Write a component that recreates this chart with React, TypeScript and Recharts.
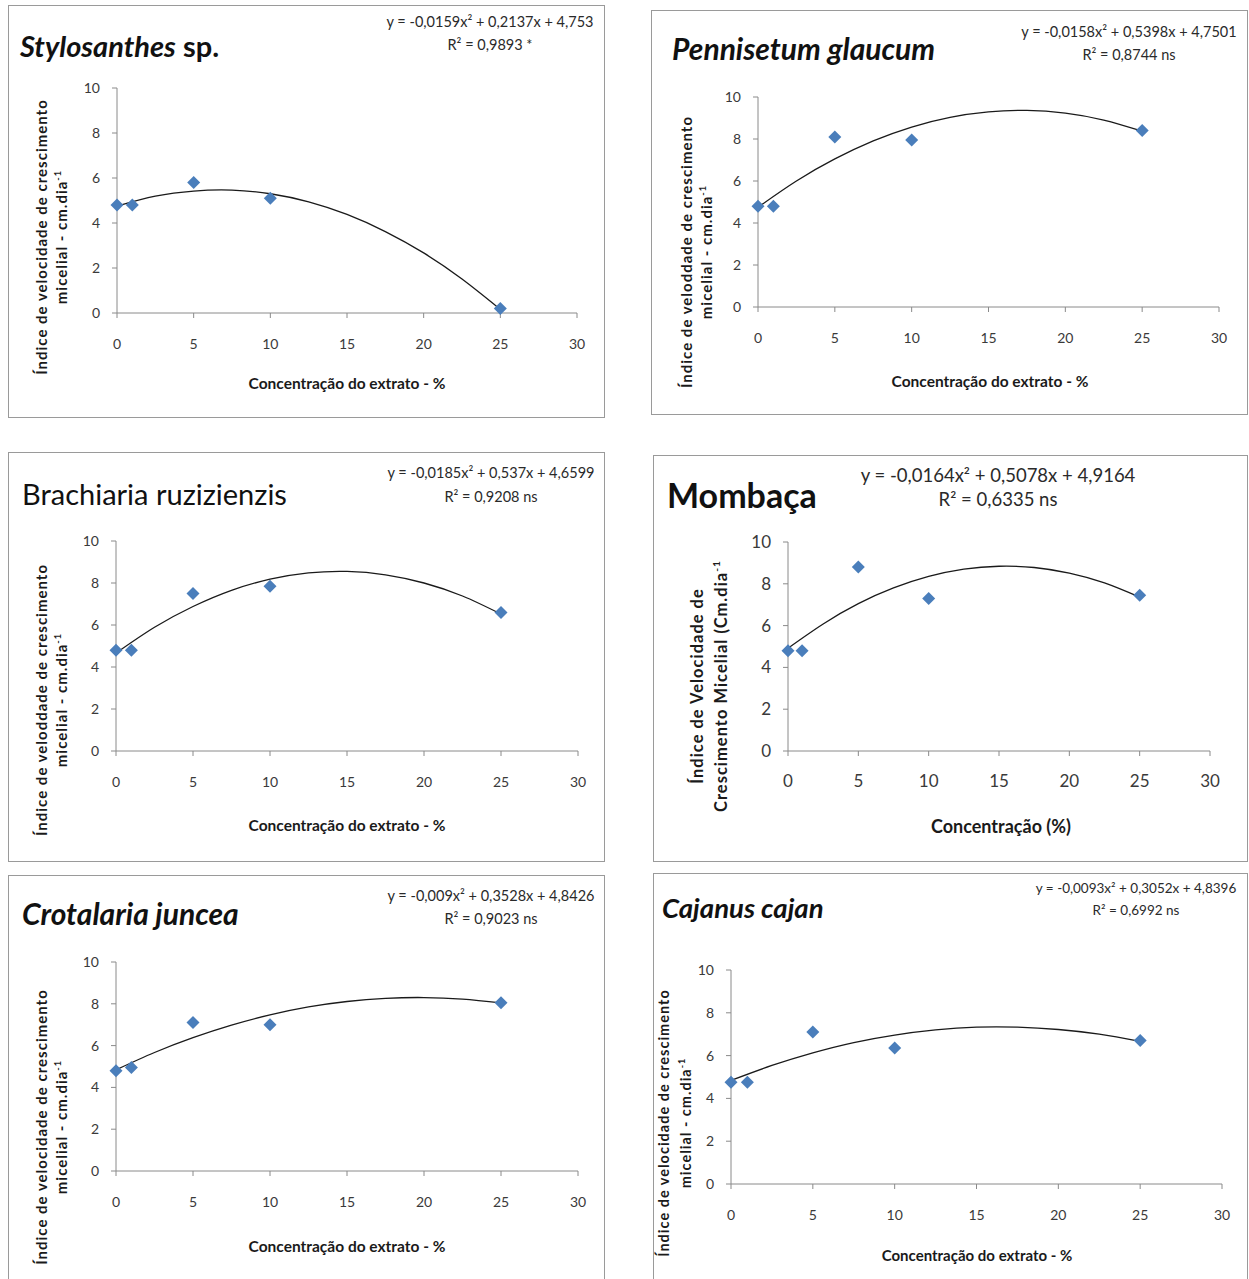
import React from 'react';
import { ComposedChart, Scatter, Line, XAxis, YAxis } from 'recharts';

// measured concentrations (% extract) and growth index per species
const concentrations = [0, 1, 5, 10, 25];
const stylosanthesValues = [4.8, 4.8, 5.8, 5.1, 0.2];
const pennisetumValues = [4.8, 4.8, 8.1, 7.95, 8.4];
const brachiariaValues = [4.8, 4.8, 7.5, 7.85, 6.6];
const mombacaValues = [4.8, 4.8, 8.8, 7.3, 7.45];
const crotalariaValues = [4.8, 4.95, 7.1, 7.0, 8.05];
const cajanusValues = [4.75, 4.75, 7.1, 6.35, 6.7];

// fitted trend curves
const trendX = [0, 2.5, 5, 7.5, 10, 12.5, 15, 17.5, 20, 22.5, 25];
const stylosanthesTrend = [4.75, 5.19, 5.42, 5.46, 5.3, 4.94, 4.38, 3.62, 2.67, 1.51, 0.16];
const pennisetumTrend = [4.75, 6.0, 7.05, 7.91, 8.57, 9.03, 9.29, 9.36, 9.23, 8.9, 8.37];
const brachiariaTrend = [4.66, 5.89, 6.88, 7.65, 8.18, 8.48, 8.55, 8.39, 8.0, 7.38, 6.52];
const mombacaTrend = [4.92, 6.08, 7.05, 7.8, 8.35, 8.7, 8.84, 8.78, 8.51, 8.04, 7.36];
const crotalariaTrend = [4.84, 5.67, 6.38, 6.98, 7.47, 7.85, 8.11, 8.26, 8.3, 8.22, 8.04];
const cajanusTrend = [4.84, 5.54, 6.13, 6.61, 6.96, 7.2, 7.33, 7.33, 7.22, 7.0, 6.66];

const xTicks = [0, 5, 10, 15, 20, 25, 30];
const yTicks = [0, 2, 4, 6, 8, 10];

const FONT = 'Lato, "Open Sans", sans-serif';
const AXIS = '#8a8a8a';
const MARKER = '#4a7ebb';

const toPoints = (vals: number[]) => concentrations.map((x, i) => ({ x, y: vals[i] }));
const toCurve = (vals: number[]) => trendX.map((x, i) => ({ x, y: vals[i] }));

const Diamond = (props: any) => {
  const { cx, cy } = props;
  if (cx == null || cy == null) return null;
  const r = 6.5;
  return <polygon points={`${cx},${cy - r} ${cx + r},${cy} ${cx},${cy + r} ${cx - r},${cy}`} fill={MARKER} />;
};

const dia = (text: string) => (
  <>
    {text}
    <sup style={{ fontSize: '0.62em' }}>-1</sup>
  </>
);

const stdYLabel = ['Índice de velocidade de crescimento', dia('micelial - cm.dia')];
const stdXLabel = 'Concentração do extrato - %';

const panels = [
  {
    box: [8, 5, 605, 418], plot: [117, 88, 577, 313],
    title: [{ t: 'Stylosanthes', it: true }, { t: ' sp.', it: false }], titlePos: [20, 45], titleSize: 29, titleWeight: 700,
    eq: ['y = -0,0159x² + 0,2137x + 4,753', 'R² = 0,9893 *'], eqPos: [490, 22, 45], eqSize: 14.5,
    yLabel: stdYLabel, yLabelX: [41, 61], yLabelY: 237, yLabelSize: 15,
    xLabel: stdXLabel, xLabelPos: [347, 384], xLabelSize: 15.5, tickSize: 14,
    points: stylosanthesValues, trend: stylosanthesTrend,
  },
  {
    box: [651, 10, 1248, 415], plot: [758, 97, 1219, 307],
    title: [{ t: 'Pennisetum glaucum', it: true }], titlePos: [672, 48], titleSize: 30, titleWeight: 700,
    eq: ['y = -0,0158x² + 0,5398x + 4,7501', 'R² = 0,8744 ns'], eqPos: [1129, 32, 55], eqSize: 14.5,
    yLabel: ['Índice de veloddade  de crescimento', dia('micelial - cm.dia')], yLabelX: [686, 706], yLabelY: 252, yLabelSize: 15,
    xLabel: stdXLabel, xLabelPos: [990, 382], xLabelSize: 15.5, tickSize: 14,
    points: pennisetumValues, trend: pennisetumTrend,
  },
  {
    box: [8, 452, 605, 862], plot: [116, 541, 578, 751],
    title: [{ t: 'Brachiaria ruzizienzis', it: false }], titlePos: [22, 493], titleSize: 29, titleWeight: 400,
    eq: ['y = -0,0185x² + 0,537x + 4,6599', 'R² = 0,9208 ns'], eqPos: [491, 473, 497], eqSize: 14.5,
    yLabel: ['Índice de veloddade  de crescimento', dia('micelial - cm.dia')], yLabelX: [41, 61], yLabelY: 700, yLabelSize: 15,
    xLabel: stdXLabel, xLabelPos: [347, 826], xLabelSize: 15.5, tickSize: 14,
    points: brachiariaValues, trend: brachiariaTrend,
  },
  {
    box: [653, 455, 1248, 862], plot: [788, 542, 1210, 751],
    title: [{ t: 'Mombaça', it: false }], titlePos: [667, 495], titleSize: 34, titleWeight: 700,
    eq: ['y = -0,0164x² + 0,5078x + 4,9164', 'R² = 0,6335 ns'], eqPos: [998, 475, 499], eqSize: 18.5,
    yLabel: ['Índice de Velocidade  de', dia('Crescimento Micelial  (Cm.dia')], yLabelX: [697, 720], yLabelY: 686, yLabelSize: 16.5,
    xLabel: 'Concentração  (%)', xLabelPos: [1001, 826], xLabelSize: 18, tickSize: 17,
    points: mombacaValues, trend: mombacaTrend,
  },
  {
    box: [8, 875, 605, 1300], plot: [116, 962, 578, 1171],
    title: [{ t: 'Crotalaria juncea', it: true }], titlePos: [22, 913], titleSize: 30, titleWeight: 700,
    eq: ['y = -0,009x² + 0,3528x + 4,8426', 'R² = 0,9023 ns'], eqPos: [491, 896, 919], eqSize: 14.5,
    yLabel: stdYLabel, yLabelX: [41, 61], yLabelY: 1127, yLabelSize: 15,
    xLabel: stdXLabel, xLabelPos: [347, 1247], xLabelSize: 15.5, tickSize: 14,
    points: crotalariaValues, trend: crotalariaTrend,
  },
  {
    box: [653, 873, 1248, 1300], plot: [731, 970, 1222, 1184],
    title: [{ t: 'Cajanus cajan', it: true }], titlePos: [662, 908], titleSize: 27.5, titleWeight: 700,
    eq: ['y = -0,0093x² + 0,3052x + 4,8396', 'R² = 0,6992 ns'], eqPos: [1136, 889, 911], eqSize: 13.5,
    yLabel: stdYLabel, yLabelX: [664, 685], yLabelY: 1123, yLabelSize: 14.5,
    xLabel: stdXLabel, xLabelPos: [977, 1255], xLabelSize: 15, tickSize: 14,
    points: cajanusValues, trend: cajanusTrend,
  },
];

const Panel = ({ p }: { p: any }) => {
  const [L, T, R, B] = p.box;
  const [pl, pt, pr, pb] = p.plot;
  const w = R - L;
  const h = B - T;
  const xAxisH = 40;
  const text = { position: 'absolute' as const, fontFamily: FONT, color: '#1a1a1a', whiteSpace: 'nowrap' as const, lineHeight: 1 };
  return (
    <>
      <div style={{ position: 'absolute', left: L, top: T, width: w - 2, height: h - 2, border: '1px solid #9a9a9a', background: '#fff' }} />
      <div style={{ position: 'absolute', left: L, top: T }}>
        <ComposedChart
          width={w}
          height={h}
          margin={{ top: pt - T, right: R - pr, left: 0, bottom: B - pb - xAxisH }}
        >
          <XAxis
            type="number"
            dataKey="x"
            domain={[0, 30]}
            ticks={xTicks}
            height={xAxisH}
            stroke={AXIS}
            tickSize={5}
            tickMargin={p.tickSize > 14 ? 19 : 21}
            tick={{ fill: '#3a3a3a', fontSize: p.tickSize, fontFamily: FONT }}
          />
          <YAxis
            type="number"
            dataKey="y"
            domain={[0, 10]}
            ticks={yTicks}
            width={pl - L}
            stroke={AXIS}
            tickSize={5}
            tickMargin={12}
            tick={{ fill: '#3a3a3a', fontSize: p.tickSize, fontFamily: FONT }}
          />
          <Line
            data={toCurve(p.trend)}
            dataKey="y"
            type="natural"
            stroke="#1a1a1a"
            strokeWidth={1.3}
            dot={false}
            activeDot={false}
            isAnimationActive={false}
          />
          <Scatter data={toPoints(p.points)} dataKey="y" shape={<Diamond />} isAnimationActive={false} />
        </ComposedChart>
      </div>
      <div style={{ ...text, left: p.titlePos[0], top: p.titlePos[1], transform: 'translateY(-50%)', fontSize: p.titleSize, fontWeight: p.titleWeight, color: '#111' }}>
        {p.title.map((s: any, i: number) => (
          <span key={i} style={{ fontStyle: s.it ? 'italic' : 'normal' }}>{s.t}</span>
        ))}
      </div>
      {p.eq.map((ln: string, i: number) => (
        <div key={i} style={{ ...text, left: p.eqPos[0], top: p.eqPos[1 + i], transform: 'translate(-50%,-50%)', fontSize: p.eqSize, color: '#2a2a2a' }}>
          {ln}
        </div>
      ))}
      {p.yLabel.map((ln: any, i: number) => (
        <div
          key={i}
          style={{ ...text, left: p.yLabelX[i], top: p.yLabelY, transform: 'translate(-50%,-50%) rotate(-90deg)', fontSize: p.yLabelSize, fontWeight: 700, letterSpacing: 1 }}
        >
          {ln}
        </div>
      ))}
      <div style={{ ...text, left: p.xLabelPos[0], top: p.xLabelPos[1], transform: 'translate(-50%,-50%)', fontSize: p.xLabelSize, fontWeight: 700 }}>
        {p.xLabel}
      </div>
    </>
  );
};

export default function App() {
  return (
    <div style={{ position: 'absolute', left: 0, top: 0, width: 1249, height: 1279, overflow: 'hidden', background: '#fff' }}>
      {panels.map((p, i) => (
        <Panel key={i} p={p} />
      ))}
    </div>
  );
}
